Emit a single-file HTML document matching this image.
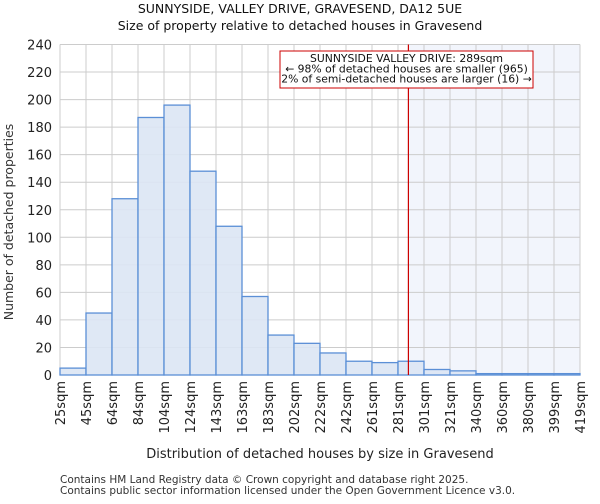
<!DOCTYPE html>
<html><head><meta charset="utf-8"><style>
body{margin:0;background:#fff;font-family:"DejaVu Sans","Liberation Sans",sans-serif;}
</style></head><body>
<svg width="600" height="500" xmlns="http://www.w3.org/2000/svg" font-family="DejaVu Sans, Liberation Sans, sans-serif">
<g id="root"></g>
</svg>
<script>
const categories=["25sqm","45sqm","64sqm","84sqm","104sqm","124sqm","143sqm","163sqm","183sqm","202sqm","222sqm","242sqm","261sqm","281sqm","301sqm","321sqm","340sqm","360sqm","380sqm","399sqm","419sqm"];
const binEdges=[25,45,64,84,104,124,143,163,183,202,222,242,261,281,301,321,340,360,380,399,419];
const counts=[5,45,128,187,196,148,108,57,29,23,16,10,9,10,4,3,1,1,1,1];
const yTicks=[0,20,40,60,80,100,120,140,160,180,200,220,240];
const markerValue=289;
const ns="http://www.w3.org/2000/svg";
const root=document.getElementById('root');
const L=60,R=580,T=44.5,B=375,yMax=240;
const nb=counts.length,bw=(R-L)/nb;
const yS=v=>B-(v/yMax)*(B-T);
const xIdx=i=>L+i*bw;
function xVal(v){for(let i=0;i<binEdges.length-1;i++){if(v<=binEdges[i+1]){return xIdx(i)+(v-binEdges[i])/(binEdges[i+1]-binEdges[i])*bw;}}return R;}
function mk(tag,attrs,txt){const e=document.createElementNS(ns,tag);for(const k in attrs)e.setAttribute(k,attrs[k]);if(txt!==undefined)e.textContent=txt;root.appendChild(e);return e;}
const mx=xVal(markerValue);
let e;
e=mk('rect',{x:mx,y:T,width:R-mx,height:B-T,fill:'#f2f5fc'});


yTicks.forEach(t=>{
 e=mk('line',{x1:L,x2:R,y1:yS(t),y2:yS(t),stroke:'#cccccc','stroke-width':1});
 
 
 e=mk('text',{x:L-8,y:yS(t)+5,'text-anchor':'end','font-size':13,fill:'#222'},t);
 
 
});
categories.forEach((c,i)=>{
 const x=xIdx(i);
 e=mk('line',{x1:x,x2:x,y1:T,y2:B,stroke:'#cccccc','stroke-width':1});
 
 
 e=mk('text',{x:0,y:0,'text-anchor':'end','font-size':13,fill:'#222',transform:`translate(${x+5},${B+6}) rotate(-90)`},c);
 
 
});
counts.forEach((v,i)=>{
 e=mk('rect',{x:xIdx(i),y:yS(v),width:bw,height:B-yS(v),fill:'#dce6f4',stroke:'#5b8fd6','stroke-width':1.3,'fill-opacity':0.9});
 
 
});
e=mk('line',{x1:mx,x2:mx,y1:T,y2:B,stroke:'#cc0000','stroke-width':1.2});


e=mk('rect',{x:280,y:51,width:253,height:37,fill:'#fff',stroke:'#cc0000','stroke-width':1});


["SUNNYSIDE VALLEY DRIVE: 289sqm","← 98% of detached houses are smaller (965)","2% of semi-detached houses are larger (16) →"].forEach((t,i)=>{
 e=mk('text',{x:406.5,y:62+i*10.3,'text-anchor':'middle','font-size':10.8,fill:'#111'},t);
 
 
});
e=mk('text',{x:300,y:13,'text-anchor':'middle','font-size':12.5,fill:'#111'},"SUNNYSIDE, VALLEY DRIVE, GRAVESEND, DA12 5UE");


e=mk('text',{x:300,y:30,'text-anchor':'middle','font-size':12.5,fill:'#111'},"Size of property relative to detached houses in Gravesend");


e=mk('text',{x:0,y:0,'text-anchor':'middle','font-size':12.5,fill:'#333',transform:'translate(13,222) rotate(-90)'},"Number of detached properties");


e=mk('text',{x:320,y:458,'text-anchor':'middle','font-size':13,fill:'#222'},"Distribution of detached houses by size in Gravesend");


e=mk('text',{x:60,y:483,'font-size':10.5,fill:'#333'},"Contains HM Land Registry data © Crown copyright and database right 2025.");


e=mk('text',{x:60,y:494,'font-size':10.5,fill:'#333'},"Contains public sector information licensed under the Open Government Licence v3.0.");


</script>
</body></html>
